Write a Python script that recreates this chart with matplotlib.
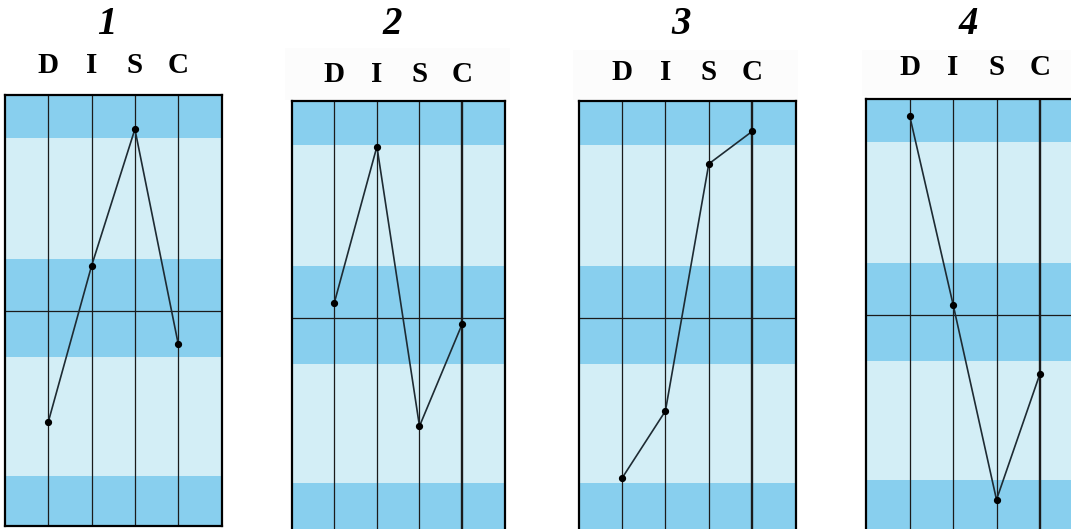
import matplotlib
matplotlib.use("Agg")
import matplotlib.pyplot as plt
from matplotlib.patches import Rectangle

# ---- data ----
panel_titles = ["1", "2", "3", "4"]
factors = ["D", "I", "S", "C"]
panel1 = [-51, 21, 84, -15]
panel2 = [7, 79, -50, -3]
panel3 = [-74, -43, 71, 86]
panel4 = [92, 5, -85, -27]
series = [panel1, panel2, panel3, panel4]

# ---- style / layout ----
W, H = 1071, 529
fig = plt.figure(figsize=(W / 100, H / 100), dpi=100)
fig.patch.set_facecolor("white")

DARK = "#88CFEE"
LIGHT = "#D3EEF6"
YTOP, YBOT = 100, -99.2
bands = [(79.8, YTOP, DARK), (24.0, 79.8, LIGHT), (-21.2, 24.0, DARK),
         (-76.0, -21.2, LIGHT), (YBOT, -76.0, DARK)]
PX_PER_UNIT = 2.168
box_h = (YTOP - YBOT) * PX_PER_UNIT

# (left px, top px, width px, disc baseline px, thick C line, backdrop)
layout = [
    (5.0, 94.5, 216.5, 73, False, None),
    (291.8, 101.0, 212.8, 82, True, (285, 48, 225, 52)),
    (578.6, 101.0, 217.0, 80, True, (573, 50, 225, 50)),
    (866.3, 98.6, 217.0, 75, True, (862, 50, 220, 46)),
]

serif = ["Liberation Serif", "DejaVu Serif"]

for title, vals, (lpx, tpx, wpx, disc_base, thick_c, backdrop) in zip(
        panel_titles, series, layout):
    if backdrop is not None:
        bx, by, bw, bh = backdrop
        fig.patches.append(Rectangle((bx / W, 1 - (by + bh) / H), bw / W, bh / H,
                                     transform=fig.transFigure, facecolor="#FCFCFC",
                                     edgecolor="none", zorder=-5))
    ax = fig.add_axes([lpx / W, 1 - (tpx + box_h) / H, wpx / W, box_h / H])
    ax.set_zorder(2)
    ax.patch.set_alpha(0)
    ax.set_xlim(0, 5)
    ax.set_ylim(YBOT, YTOP)
    for lo, hi, c in bands:
        ax.axhspan(lo, hi, color=c, lw=0, zorder=0)
    for i in range(1, 5):
        lw = 1.7 if (thick_c and i == 4) else 0.9
        ax.axvline(i, color="#1b1b1b", lw=lw, zorder=1)
    ax.axhline(0, color="#1b1b1b", lw=0.9, zorder=1)
    xs = list(range(1, len(factors) + 1))
    ax.plot(xs, vals, color="#1e2b33", lw=1.2, marker="o", ms=4.2,
            mfc="black", mec="black", zorder=3)
    ax.set_xticks([])
    ax.set_yticks([])
    for s in ax.spines.values():
        s.set_linewidth(1.6)
        s.set_color("black")
    # headers
    for x, f in zip(xs, factors):
        ax.annotate(f, xy=(x, H - disc_base), xycoords=("data", "figure pixels"),
                    ha="center", va="baseline", fontsize=21, fontweight="bold",
                    family=serif, color="black", annotation_clip=False)
    ax.annotate(title, xy=(2.35, H - 34), xycoords=("data", "figure pixels"),
                ha="center", va="baseline", fontsize=28, fontweight="bold",
                fontstyle="italic", family=serif, color="black",
                annotation_clip=False)

fig.savefig("out.png", dpi=100, facecolor="white")
